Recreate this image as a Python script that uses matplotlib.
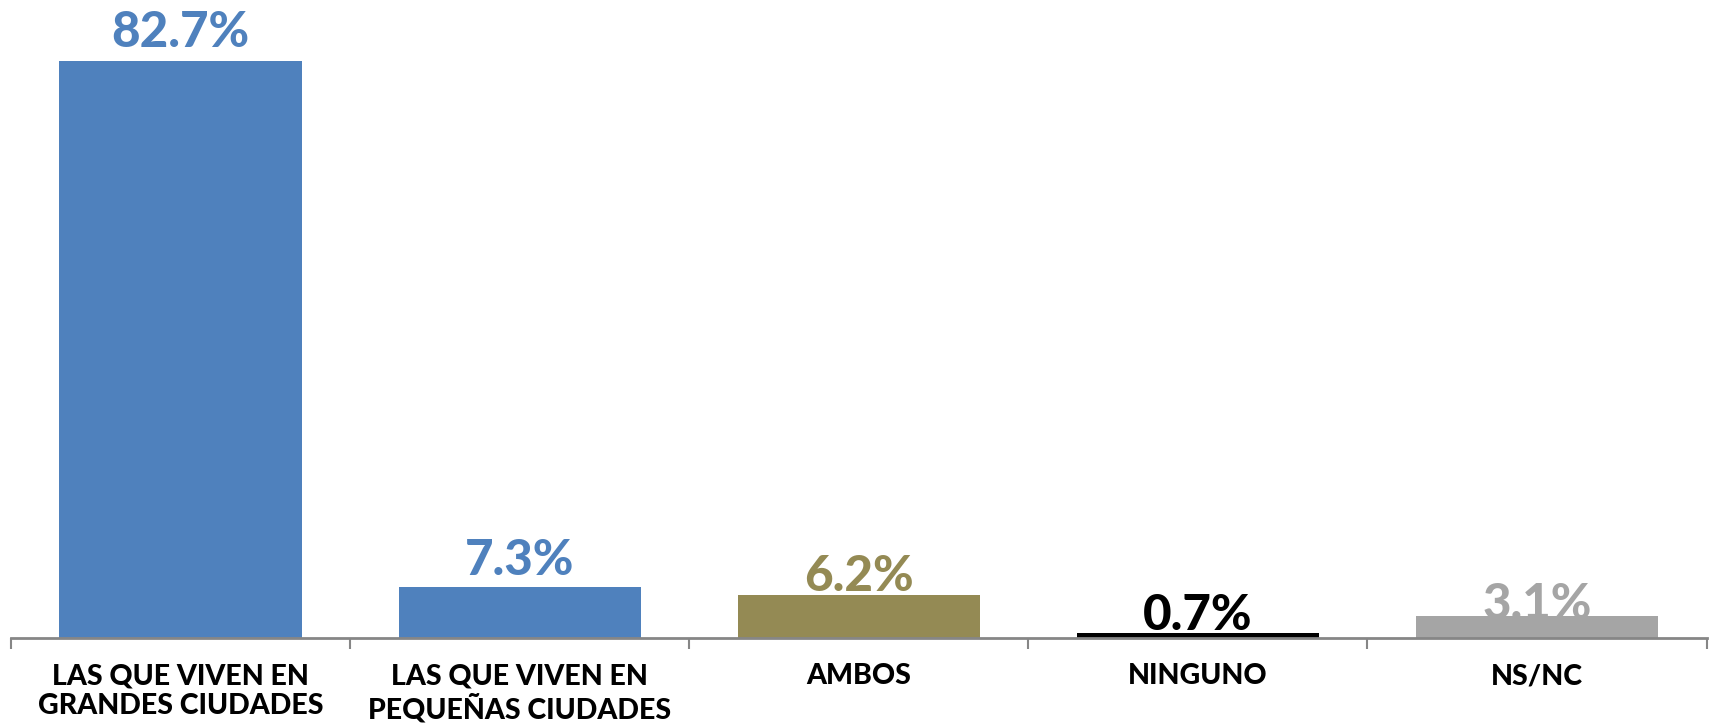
import matplotlib
matplotlib.use("Agg")
import matplotlib.pyplot as plt
from matplotlib.ticker import FixedLocator

categories = ["LAS QUE VIVEN EN\nGRANDES CIUDADES", "LAS QUE VIVEN EN\nPEQUEÑAS CIUDADES",
              "AMBOS", "NINGUNO", "NS/NC"]
values = [82.7, 7.3, 6.2, 0.7, 3.1]
labels = ["82.7%", "7.3%", "6.2%", "0.7%", "3.1%"]
colors = ["#4F81BD", "#4F81BD", "#948A54", "#000000", "#A5A5A5"]
label_offsets = [14, 12, 4, 3, -3]  # pixels above bar top (styling)

plt.rcParams['font.family'] = ['Lato', 'DejaVu Sans']

fig = plt.figure(figsize=(17.12, 7.27), dpi=100)
ax = fig.add_axes([0.0064, 0.1224, 0.9904, 0.8636])

x = list(range(len(categories)))
ax.bar(x, values, width=0.714, color=colors, zorder=3)
for xi, v, lab, c, off in zip(x, values, labels, colors, label_offsets):
    ax.annotate(lab, (xi, v), xytext=(0, off), textcoords='offset pixels',
                ha='center', va='baseline', fontsize=35.5, fontweight='black',
                color=c, zorder=2)

ax.set_xlim(-0.5, len(categories) - 0.5)
ax.set_ylim(0, 90)
ax.set_yticks([])
for s in ['top', 'left', 'right']:
    ax.spines[s].set_visible(False)
ax.spines['bottom'].set_color('#868686')
ax.spines['bottom'].set_linewidth(2)
ax.spines['bottom'].set_zorder(4)

ax.set_xticks(x)
ax.set_xticklabels(categories, fontsize=20.5, fontweight='black', color='black',
                   linespacing=1.2)
ax.tick_params(axis='x', which='major', length=0, pad=18)
ax.xaxis.set_minor_locator(FixedLocator([i - 0.5 for i in range(len(categories) + 1)]))
ax.tick_params(axis='x', which='minor', length=8, width=1.5, color='#868686', direction='out')

fig.savefig("out.png", dpi=100)
